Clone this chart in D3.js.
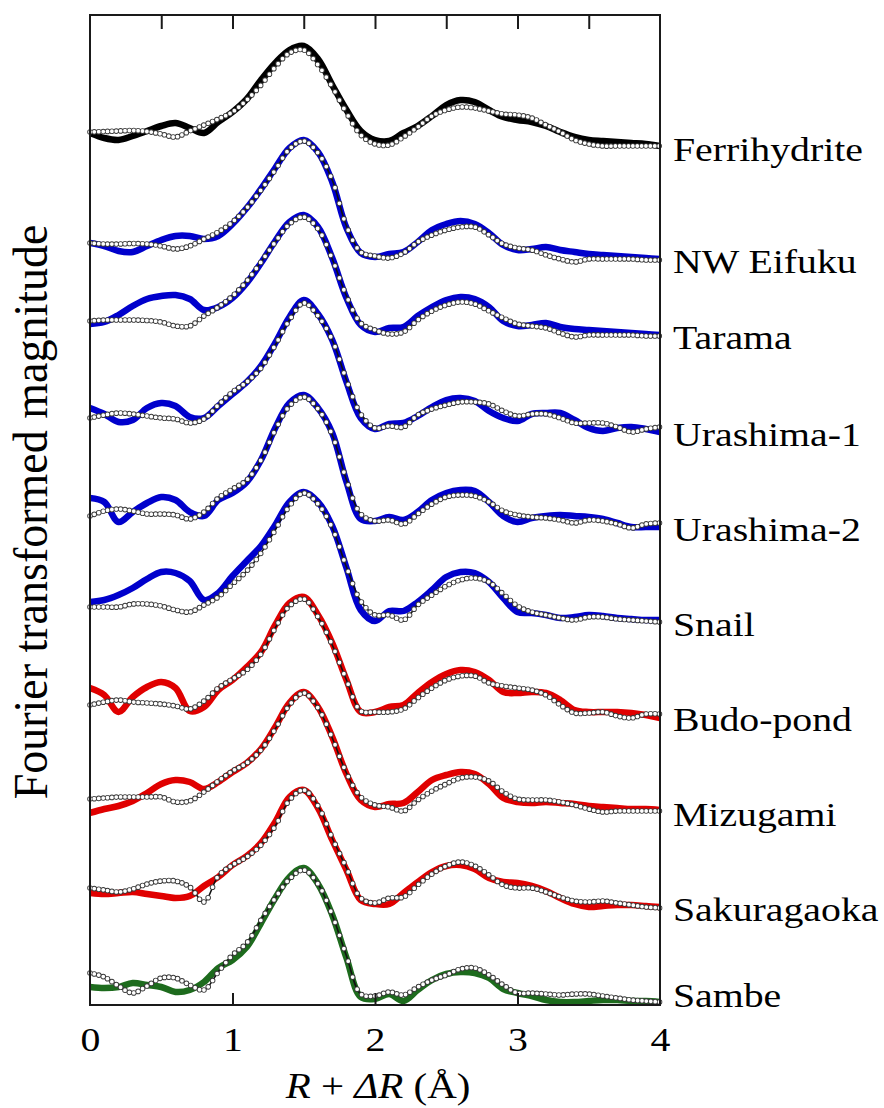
<!DOCTYPE html>
<html>
<head>
<meta charset="utf-8">
<script src="https://cdn.jsdelivr.net/npm/d3@7/dist/d3.min.js"></script>
<style>
  body { margin: 0; background: #fff; }
  text { font-family: "Liberation Serif", "Times New Roman", serif; fill: #000; }
</style>
</head>
<body>
<div id="chart"></div>
<script>
// R + dR grid (Angstrom) the curves were read on
var rGrid = [0.0, 0.1, 0.2, 0.3, 0.4, 0.5, 0.6, 0.7, 0.8, 0.9,
             1.0, 1.1, 1.2, 1.3, 1.4, 1.5, 1.6, 1.7, 1.8, 1.9,
             2.0, 2.1, 2.2, 2.3, 2.4, 2.5, 2.6, 2.7, 2.8, 2.9,
             3.0, 3.1, 3.2, 3.3, 3.4, 3.5, 3.6, 3.7, 3.8, 3.9, 4.0];

var sampleNames = ["Ferrihydrite", "NW Eifuku", "Tarama", "Urashima-1", "Urashima-2",
                   "Snail", "Budo-pond", "Mizugami", "Sakuragaoka", "Sambe"];
var sampleOffsets = [85.5, 74.3, 66.7, 57.0, 47.5, 38.0, 28.5, 19.0, 9.5, 0];
var sampleColors = ["#000000", "#0000cc", "#0000cc", "#0000cc", "#0000cc",
                    "#0000cc", "#e00000", "#e00000", "#e00000", "#1d6b1d"];

var xTickLabels = [0, 1, 2, 3, 4];
var topTicks = [0.5, 1, 1.5, 2, 2.5, 3, 3.5];
var bottomTicks = [1, 2, 3];

// thick coloured curves (sample spectra)
var ferriExp  = [1.7,1.2,1.0,1.4,1.9,2.4,2.7,2.2,1.7,2.8,3.8,5.1,7.0,8.7,10.0,10.4,9.1,6.5,4.0,1.9,1.0,0.9,1.7,2.4,3.4,4.5,5.0,4.8,4.0,3.3,3.0,2.8,2.4,1.8,1.3,1.0,0.9,0.8,0.7,0.6,0.4];
var nwExp     = [1.9,1.6,1.1,1.0,1.6,2.2,2.6,2.6,2.3,2.6,3.8,5.4,7.3,9.4,11.4,12.2,11.0,8.0,3.4,0.9,0.5,0.8,1.0,2.0,3.2,3.8,4.1,3.8,2.9,1.7,1.2,1.3,1.5,1.2,1.0,0.8,0.7,0.6,0.5,0.4,0.3];
var taramaExp = [1.4,1.6,2.3,3.2,3.9,4.2,4.3,3.9,2.8,3.1,4.0,5.5,7.5,9.7,11.6,12.3,11.1,8.0,4.0,1.3,0.6,1.0,1.1,2.2,3.1,3.8,4.1,3.9,3.1,1.7,1.2,1.3,1.5,1.1,0.9,0.8,0.7,0.6,0.5,0.4,0.3];
var u1Exp     = [2.7,2.1,1.3,1.5,2.7,3.2,2.9,1.8,1.7,2.9,4.1,5.3,6.9,9.2,11.8,13.5,12.1,9.5,5.3,1.7,0.6,1.1,1.2,1.9,2.8,3.5,3.7,3.4,2.4,1.7,1.4,2.1,2.2,2.2,1.5,0.7,0.4,0.7,0.8,0.6,0.3];
var u2Exp     = [3.2,2.8,0.8,1.8,2.7,3.3,3.0,1.8,1.4,3.0,3.7,4.8,7.0,10.2,12.7,13.5,12.2,9.7,4.8,1.1,0.9,1.3,1.0,1.8,3.0,3.7,4.0,3.9,2.8,1.4,0.8,1.2,1.4,1.5,1.4,1.3,1.1,0.7,0.3,0.3,0.3];
var snailExp  = [2.3,2.5,3.0,3.7,4.6,5.3,5.2,4.4,2.5,3.2,4.9,6.4,7.9,10.0,12.3,13.3,12.3,9.9,5.7,1.5,0.4,1.4,1.4,2.3,3.5,4.8,5.3,5.2,4.3,2.7,1.3,1.2,1.0,0.7,0.8,1.0,0.9,0.7,0.6,0.5,0.5];
var budoExp   = [3.2,2.5,0.8,2.3,3.3,3.8,3.2,0.9,1.3,3.0,4.0,5.3,6.8,9.5,11.7,12.3,10.5,7.7,4.0,0.8,0.8,1.3,1.5,2.7,3.8,4.6,5.0,4.8,4.0,2.8,2.7,2.8,2.7,2.0,1.0,0.8,0.8,0.8,0.7,0.5,0.2];
var mizuExp   = [0.2,0.6,0.9,1.4,2.2,3.1,3.5,3.3,2.6,3.3,4.3,5.2,6.6,8.8,11.2,12.3,10.8,7.8,4.1,1.5,0.8,1.1,1.2,2.3,3.5,4.0,4.3,4.1,3.1,1.7,1.3,1.2,1.3,1.2,1.1,0.9,0.8,0.7,0.6,0.6,0.5];
var sakuExp   = [1.7,1.6,1.7,1.8,1.6,1.4,1.2,1.4,2.4,3.3,4.5,5.4,6.7,8.8,11.3,12.0,10.2,7.0,4.0,1.0,0.6,0.6,1.7,2.8,3.8,4.4,4.5,4.1,3.2,2.8,2.7,2.4,1.9,1.2,0.6,0.3,0.4,0.5,0.5,0.4,0.3];
var sambeExp  = [1.8,1.7,1.8,2.2,2.0,1.8,1.3,1.5,2.3,3.7,4.5,5.8,8.2,10.7,12.8,13.7,12.1,9.0,4.7,0.8,0.6,1.1,0.4,1.5,2.5,3.1,3.3,3.2,2.7,1.6,1.2,0.9,0.5,0.3,0.3,0.4,0.5,0.5,0.4,0.4,0.3];

// thin black curves with open circles (fits)
var ferriFit  = [1.8,1.85,1.9,1.95,1.85,1.6,1.3,1.9,2.5,3.1,3.8,5.0,6.5,8.3,9.7,10.0,8.5,6.3,3.7,1.5,0.6,0.5,1.3,2.3,3.4,4.0,4.3,4.2,3.9,3.6,3.5,3.2,2.5,1.8,1.0,0.6,0.4,0.4,0.4,0.4,0.4];
var nwFit     = [1.9,1.8,1.8,1.85,1.8,1.6,1.3,1.6,2.3,3.0,4.0,5.4,7.2,9.2,11.3,12.1,10.9,8.2,3.6,1.0,0.6,0.4,0.9,2.0,2.7,3.2,3.5,3.5,2.7,1.8,1.4,1.2,0.7,0.3,0.0,0.3,0.3,0.3,0.3,0.2,0.2];
var taramaFit = [1.7,1.8,1.8,1.8,1.75,1.6,1.2,1.2,2.2,3.1,4.2,5.7,7.6,9.6,11.4,12.1,10.9,7.9,4.2,1.5,0.8,0.4,0.6,1.8,2.7,3.3,3.6,3.4,2.7,2.0,1.4,1.2,1.0,0.5,0.1,0.3,0.3,0.3,0.3,0.2,0.2];
var u1Fit     = [1.7,2.0,2.2,2.1,1.9,1.7,1.6,1.2,1.6,3.0,4.3,5.3,6.7,9.0,11.5,13.2,11.9,9.5,5.5,2.1,0.7,0.9,0.8,2.0,2.6,3.0,3.3,3.3,3.1,2.4,1.9,2.1,2.1,1.7,1.2,1.2,1.2,0.8,0.3,0.6,0.8];
var u2Fit     = [1.4,1.9,2.1,1.9,1.6,1.6,1.5,1.1,1.8,3.2,4.1,5.0,7.0,10.0,12.4,13.3,12.1,9.5,5.0,1.6,0.9,1.0,0.6,1.6,2.6,3.3,3.5,3.4,2.8,1.9,1.5,1.3,1.2,1.0,0.7,1.0,0.9,0.6,0.2,0.6,0.7];
var snailFit  = [1.8,1.8,1.8,2.1,2.1,1.9,1.5,1.3,2.0,2.8,4.1,5.4,7.2,9.5,11.9,13.2,12.1,9.7,5.8,2.4,1.0,1.0,0.5,2.0,3.0,3.9,4.5,4.7,4.3,3.1,1.9,1.3,1.0,0.7,0.5,0.8,0.8,0.6,0.5,0.4,0.3];
var budoFit   = [1.5,1.8,2.0,1.8,1.7,1.6,1.4,1.1,1.9,3.2,4.1,5.0,6.6,9.2,11.4,12.1,10.3,7.5,4.0,0.9,0.8,0.8,1.1,2.2,3.2,4.0,4.4,4.4,3.7,3.4,3.2,3.0,2.5,1.5,0.7,0.7,0.8,0.4,0.2,0.6,0.6];
var mizuFit   = [1.6,1.7,1.8,1.8,1.8,1.8,1.3,1.4,2.3,3.4,4.4,5.2,6.5,8.6,11.0,12.2,10.7,7.7,4.2,1.8,1.0,0.8,0.4,1.5,2.4,3.1,3.7,3.8,3.4,2.3,1.6,1.5,1.5,1.3,1.0,0.6,0.3,0.4,0.4,0.4,0.4];
var sakuFit   = [2.2,2.0,1.8,2.1,2.6,2.9,2.9,2.3,0.8,3.4,4.5,5.3,6.5,8.4,11.0,12.0,10.4,7.2,4.2,1.2,0.7,1.2,1.3,2.5,3.6,4.4,4.8,4.4,3.5,2.5,2.2,2.2,1.8,1.3,0.9,0.8,0.9,0.7,0.5,0.3,0.2];
var sambeFit  = [3.2,2.8,1.9,1.2,1.9,2.7,2.7,2.0,1.5,3.3,5.0,6.2,8.5,10.7,12.6,13.5,12.1,9.0,4.9,1.1,0.9,1.3,1.0,1.8,2.5,3.0,3.6,3.7,3.0,2.0,1.2,1.2,1.1,1.0,1.1,1.1,0.9,0.7,0.5,0.4,0.3];

var expSeries = [ferriExp, nwExp, taramaExp, u1Exp, u2Exp, snailExp, budoExp, mizuExp, sakuExp, sambeExp];
var fitSeries = [ferriFit, nwFit, taramaFit, u1Fit, u2Fit, snailFit, budoFit, mizuFit, sakuFit, sambeFit];

var samples = sampleNames.map(function(name, i) {
  return { name: name, offset: sampleOffsets[i], color: sampleColors[i],
           exp: expSeries[i], fit: fitSeries[i] };
});

var width = 884, height = 1108;
var plot = { left: 90, right: 660, top: 15, bottom: 1005 };
var textStretch = 1.17;     // the figure's lettering is a little wider than Times
var markerSpacing = 0.0307; // circles sit on the fit's R grid

var x = d3.scaleLinear().domain([0, 4]).range([plot.left, plot.right]);
var y = d3.scaleLinear().domain([0, 99]).range([plot.bottom, plot.top]);

var svg = d3.select("#chart").append("svg")
    .attr("width", width)
    .attr("height", height);

svg.append("defs").append("clipPath")
    .attr("id", "plot-clip")
  .append("rect")
    .attr("x", plot.left)
    .attr("y", plot.top)
    .attr("width", plot.right - plot.left)
    .attr("height", plot.bottom - plot.top);

function curveLine(offset) {
  return d3.line()
    .x(function(d, i) { return x(rGrid[i]); })
    .y(function(d) { return y(offset + d); })
    .curve(d3.curveCatmullRom.alpha(0.5));
}

// dash pattern that puts one dot on the path at every marker R position
function markerDashes(node) {
  var total = node.getTotalLength();
  var pts = [];
  for (var s = 0; s <= total; s += 0.5) {
    pts.push({ s: s, x: node.getPointAtLength(s).x });
  }
  var positions = [];
  var k = 0;
  for (var r = 0; r <= 4.0001; r += markerSpacing) {
    var tx = x(r);
    while (k < pts.length - 2 && pts[k + 1].x < tx) k++;
    var a = pts[k], b = pts[k + 1] || a;
    var pos = b.x > a.x ? a.s + Math.max(0, Math.min(1, (tx - a.x) / (b.x - a.x))) * (b.s - a.s) : a.s;
    positions.push(pos);
  }
  var dashes = [];
  for (var j = 0; j < positions.length; j++) {
    var gap = j < positions.length - 1 ? positions[j + 1] - positions[j] : total + 20;
    dashes.push(0, Math.max(gap, 0.01));
  }
  return { dashes: dashes.join(" "), offset: -positions[0] };
}

var curves = svg.append("g").attr("class", "curves");

samples.forEach(function(sample) {
  var line = curveLine(sample.offset);
  var g = curves.append("g").attr("class", "sample");

  g.append("path")
    .attr("clip-path", "url(#plot-clip)")
    .attr("d", line(sample.exp))
    .attr("fill", "none")
    .attr("stroke", sample.color)
    .attr("stroke-width", 6.5)
    .attr("stroke-linejoin", "round");

  var fitPath = g.append("path")
    .attr("d", line(sample.fit))
    .attr("fill", "none")
    .attr("stroke", "#111")
    .attr("stroke-width", 1.6);

  var dash = markerDashes(fitPath.node());

  g.append("path")
    .attr("d", line(sample.fit))
    .attr("fill", "none")
    .attr("stroke", "#3a3a3a")
    .attr("stroke-width", 5.6)
    .attr("stroke-linecap", "round")
    .attr("stroke-dasharray", dash.dashes)
    .attr("stroke-dashoffset", dash.offset);

  g.append("path")
    .attr("d", line(sample.fit))
    .attr("fill", "none")
    .attr("stroke", "#ffffff")
    .attr("stroke-width", 3.8)
    .attr("stroke-linecap", "round")
    .attr("stroke-dasharray", dash.dashes)
    .attr("stroke-dashoffset", dash.offset);

  svg.append("text")
    .attr("transform", "translate(673," + Math.min(y(sample.offset) + 11, 1007) + ") scale(" + textStretch + ",1)")
    .attr("font-size", 34)
    .text(sample.name);
});

// frame
svg.append("rect")
    .attr("x", plot.left)
    .attr("y", plot.top)
    .attr("width", plot.right - plot.left)
    .attr("height", plot.bottom - plot.top)
    .attr("fill", "none")
    .attr("stroke", "#1a1a1a")
    .attr("stroke-width", 2);

// inward ticks on top edge
var topAxis = svg.append("g")
    .attr("transform", "translate(0," + plot.top + ")")
    .call(d3.axisBottom(x).tickValues(topTicks).tickSize(14).tickFormat(""));
topAxis.select(".domain").remove();
topAxis.selectAll(".tick line").attr("stroke", "#1a1a1a").attr("stroke-width", 2);

// inward ticks on bottom edge
var bottomAxis = svg.append("g")
    .attr("transform", "translate(0," + plot.bottom + ")")
    .call(d3.axisBottom(x).tickValues(bottomTicks).tickSize(-12).tickFormat(""));
bottomAxis.select(".domain").remove();
bottomAxis.selectAll(".tick line").attr("stroke", "#1a1a1a").attr("stroke-width", 2);

// tick labels
var labelAxis = svg.append("g")
    .attr("transform", "translate(0," + plot.bottom + ")")
    .call(d3.axisBottom(x).tickValues(xTickLabels).tickSize(0).tickFormat(d3.format("d")));
labelAxis.select(".domain").remove();
labelAxis.attr("font-family", null).attr("font-size", null);
labelAxis.selectAll(".tick text")
    .attr("y", 46)
    .attr("dy", null)
    .attr("font-size", 34)
    .attr("fill", "#000")
    .attr("transform", "scale(" + textStretch + ",1)");

// axis titles
var xTitle = svg.append("text")
    .attr("transform", "translate(378,1098) scale(" + textStretch + ",1)")
    .attr("text-anchor", "middle")
    .attr("font-size", 35);
xTitle.append("tspan").attr("font-style", "italic").text("R");
xTitle.append("tspan").text(" + ");
xTitle.append("tspan").attr("font-style", "italic").text("\u0394R");
xTitle.append("tspan").text(" (\u00C5)");

svg.append("text")
    .attr("transform", "translate(47,512) scale(1.05,1) rotate(-90)")
    .attr("text-anchor", "middle")
    .attr("font-size", 46)
    .text("Fourier transformed magnitude");
</script>
</body>
</html>
